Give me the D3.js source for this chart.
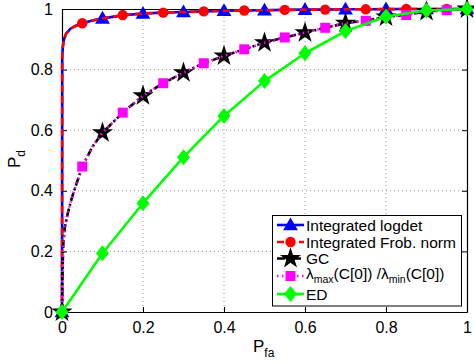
<!DOCTYPE html>
<html><head><meta charset="utf-8">
<script src="https://cdn.jsdelivr.net/npm/d3@7"></script>
<style>body{margin:0;background:#fff}svg{display:block}text{font-family:"Liberation Sans",Arial,sans-serif}</style>
</head><body>
<svg id="c" width="474" height="364"></svg>
<script>
// ---- data ----
const xTicks = [0, 0.2, 0.4, 0.6, 0.8, 1];
const yTicks = [0, 0.2, 0.4, 0.6, 0.8, 1];
const xTickLabels = ["0", "0.2", "0.4", "0.6", "0.8", "1"];
const yTickLabels = ["0", "0.2", "0.4", "0.6", "0.8", "1"];

const logdetX = [0, 0.0005, 0.002, 0.005, 0.01, 0.02, 0.03, 0.05, 0.075, 0.1, 0.15, 0.2, 0.25, 0.3, 0.35, 0.4, 0.45, 0.5, 0.55, 0.6, 0.65, 0.7, 0.75, 0.8, 0.85, 0.9, 0.95, 1];
const logdetY = [0, 0.84, 0.875, 0.9, 0.918, 0.934, 0.942, 0.953, 0.962, 0.969, 0.979, 0.985, 0.988, 0.990, 0.992, 0.994, 0.995, 0.996, 0.997, 0.998, 0.998, 0.999, 0.999, 0.9995, 1, 1, 1, 1];
const logdetMarkers = [0, 0.1, 0.2, 0.3, 0.4, 0.5, 0.6, 0.7, 0.8, 0.9, 1];

const frobX = [0, 0.0005, 0.002, 0.005, 0.01, 0.02, 0.03, 0.05, 0.075, 0.1, 0.15, 0.2, 0.25, 0.3, 0.35, 0.4, 0.45, 0.5, 0.55, 0.6, 0.65, 0.7, 0.75, 0.8, 0.85, 0.9, 0.95, 1];
const frobY = [0, 0.84, 0.875, 0.9, 0.918, 0.934, 0.942, 0.953, 0.962, 0.969, 0.98, 0.985, 0.988, 0.990, 0.992, 0.994, 0.995, 0.996, 0.997, 0.998, 0.998, 0.999, 0.999, 0.9995, 1, 1, 1, 1];
const frobMarkers = [0, 0.05, 0.15, 0.25, 0.35, 0.45, 0.55, 0.65, 0.75, 0.85, 0.95];

const gcX = [0, 0.001, 0.003, 0.007, 0.015, 0.025, 0.035, 0.05, 0.075, 0.1, 0.15, 0.2, 0.25, 0.3, 0.35, 0.4, 0.45, 0.5, 0.55, 0.6, 0.65, 0.7, 0.75, 0.8, 0.85, 0.9, 0.95, 1];
const gcY = [0, 0.12, 0.22, 0.28, 0.33, 0.38, 0.42, 0.48, 0.545, 0.592, 0.658, 0.714, 0.755, 0.79, 0.821, 0.845, 0.867, 0.889, 0.906, 0.922, 0.938, 0.953, 0.962, 0.974, 0.981, 0.992, 0.996, 1];
const gcMarkers = [0, 0.1, 0.2, 0.3, 0.4, 0.5, 0.6, 0.7, 0.8, 0.9, 1];

const eigX = [0, 0.001, 0.003, 0.007, 0.015, 0.025, 0.035, 0.05, 0.075, 0.1, 0.15, 0.2, 0.25, 0.3, 0.35, 0.4, 0.45, 0.5, 0.55, 0.6, 0.65, 0.7, 0.75, 0.8, 0.85, 0.9, 0.95, 1];
const eigY = [0, 0.12, 0.22, 0.28, 0.33, 0.38, 0.42, 0.48, 0.545, 0.592, 0.658, 0.714, 0.755, 0.79, 0.821, 0.845, 0.867, 0.889, 0.906, 0.922, 0.938, 0.953, 0.961, 0.974, 0.98, 0.992, 0.996, 1];
const eigMarkers = [0.05, 0.15, 0.25, 0.35, 0.45, 0.55, 0.65, 0.75, 0.85, 0.95];

const edX = [0, 0.1, 0.2, 0.3, 0.4, 0.5, 0.6, 0.7, 0.8, 0.9, 1];
const edY = [0, 0.194, 0.359, 0.511, 0.647, 0.762, 0.854, 0.927, 0.975, 0.995, 1];
const edMarkers = [0, 0.1, 0.2, 0.3, 0.4, 0.5, 0.6, 0.7, 0.8, 0.9, 1];

const seriesNames = ["Integrated logdet", "Integrated Frob. norm", "GC", "LAMBDA", "ED"];

// ---- chart ----
const svg = d3.select("#c");
const L = 62, R = 467, T = 9, B = 312;
const x = d3.scaleLinear().domain([0, 1]).range([L, R]);
const y = d3.scaleLinear().domain([0, 1]).range([B, T]);

// grid
const g = svg.append("g");
g.selectAll(".gx").data(xTicks.slice(1, -1)).enter().append("line")
  .attr("x1", d => x(d)).attr("x2", d => x(d)).attr("y1", T).attr("y2", B)
  .attr("stroke", "#999").attr("stroke-width", 1).attr("stroke-dasharray", "1,3");
g.selectAll(".gy").data(yTicks.slice(1, -1)).enter().append("line")
  .attr("y1", d => y(d)).attr("y2", d => y(d)).attr("x1", L).attr("x2", R)
  .attr("stroke", "#999").attr("stroke-width", 1).attr("stroke-dasharray", "1,3");

// axes
const fmtX = (d, i) => xTickLabels[i];
const fmtY = (d, i) => yTickLabels[i];
const ax = svg.append("g").attr("transform", `translate(0,${B})`)
  .call(d3.axisBottom(x).tickValues(xTicks).tickFormat(fmtX).tickSizeInner(-5).tickSizeOuter(0).tickPadding(10));
const ay = svg.append("g").attr("transform", `translate(${L},0)`)
  .call(d3.axisLeft(y).tickValues(yTicks).tickFormat(fmtY).tickSizeInner(-5).tickSizeOuter(0).tickPadding(9));
const axT = svg.append("g").attr("transform", `translate(0,${T})`)
  .call(d3.axisTop(x).tickValues(xTicks).tickFormat("").tickSizeInner(-5).tickSizeOuter(0));
const ayR = svg.append("g").attr("transform", `translate(${R},0)`)
  .call(d3.axisRight(y).tickValues(yTicks).tickFormat("").tickSizeInner(-5).tickSizeOuter(0));
[ax, ay, axT, ayR].forEach(a => {
  a.selectAll("path").attr("stroke", "#000").attr("stroke-width", 1.2);
  a.selectAll("line").attr("stroke", "#000");
  a.selectAll("text").attr("font-size", 16).attr("fill", "#000").attr("font-family", '"Liberation Sans",Arial,sans-serif');
});
ax.selectAll("text").attr("dy", "0.71em");

// markers
const star = d3.symbol().type(d3.symbolStar).size(140);
const tri = d3.symbol().type(d3.symbolTriangle).size(95);
function drawMarker(sel, kind, cx, cy) {
  if (kind === "tri") {
    sel.append("path").attr("d", tri()).attr("transform", `translate(${cx},${cy+1})`).attr("fill", "#0000ff");
  } else if (kind === "circ") {
    sel.append("circle").attr("cx", cx).attr("cy", cy).attr("r", 5.2).attr("fill", "#ff0000");
  } else if (kind === "star") {
    sel.append("path").attr("d", star()).attr("transform", `translate(${cx},${cy})`).attr("fill", "#000");
  } else if (kind === "sq") {
    sel.append("rect").attr("x", cx - 5).attr("y", cy - 5).attr("width", 10).attr("height", 10).attr("fill", "#ff00ff");
  } else if (kind === "dia") {
    sel.append("path").attr("d", `M${cx},${cy-8}L${cx+6.5},${cy}L${cx},${cy+8}L${cx-6.5},${cy}Z`).attr("fill", "#00ff00");
  }
}

const series = [
  {xs: logdetX, ys: logdetY, marks: logdetMarkers, color: "#0000ff", dash: null, kind: "tri"},
  {xs: frobX, ys: frobY, marks: frobMarkers, color: "#ff0000", dash: "7,4", kind: "circ"},
  {xs: gcX, ys: gcY, marks: gcMarkers, color: "#000000", dash: "8,3,2,3", kind: "star"},
  {xs: eigX, ys: eigY, marks: eigMarkers, color: "#ff00ff", dash: "1.5,3.5", kind: "sq"},
  {xs: edX, ys: edY, marks: edMarkers, color: "#00ff00", dash: null, kind: "dia"}
];
const line = d3.line().x(d => x(d[0])).y(d => y(d[1]));
const plot = svg.append("g");
series.forEach(s => {
  const pts = s.xs.map((v, i) => [v, s.ys[i]]);
  const p = plot.append("path").datum(pts).attr("d", line).attr("fill", "none")
    .attr("stroke", s.color).attr("stroke-width", 2.6).attr("stroke-linejoin", "round");
  if (s.dash) p.attr("stroke-dasharray", s.dash);
  const mg = plot.append("g");
  pts.filter(d => s.marks.some(m => Math.abs(m - d[0]) < 1e-9))
     .forEach(d => drawMarker(mg, s.kind, x(d[0]), y(d[1])));
});

// axis labels
const xl = svg.append("text").attr("x", 253).attr("y", 352).attr("font-size", 17);
xl.append("tspan").text("P");
xl.append("tspan").attr("font-size", 12).attr("dy", 5).text("fa");
const yl = svg.append("text").attr("transform", "translate(20,168) rotate(-90)").attr("font-size", 17);
yl.append("tspan").text("P");
yl.append("tspan").attr("font-size", 12).attr("dy", 5).text("d");

// legend
const lg = svg.append("g");
lg.append("rect").attr("x", 272.5).attr("y", 215.5).attr("width", 189).attr("height", 90.5)
  .attr("fill", "#fff").attr("stroke", "#000").attr("stroke-width", 1);
const rowsY = [225, 242, 258.5, 276, 294];
series.forEach((s, i) => {
  const yy = rowsY[i];
  const l = lg.append("line").attr("x1", 277).attr("x2", 304).attr("y1", yy).attr("y2", yy)
    .attr("stroke", s.color).attr("stroke-width", 2.6);
  if (s.dash) l.attr("stroke-dasharray", s.dash);
  drawMarker(lg, s.kind, 290.5, yy);
  const t = lg.append("text").attr("x", 306).attr("y", yy + 5.5).attr("font-size", 15.5);
  if (seriesNames[i] === "LAMBDA") {
    t.attr("y", yy + 2.5);
    t.append("tspan").text("\u03bb");
    t.append("tspan").attr("font-size", 10.5).attr("dy", 4).text("max");
    t.append("tspan").attr("dy", -4).text("(C[0]) /\u03bb");
    t.append("tspan").attr("font-size", 10.5).attr("dy", 4).text("min");
    t.append("tspan").attr("dy", -4).text("(C[0])");
  } else {
    t.text(seriesNames[i]);
  }
});
</script>
</body></html>
